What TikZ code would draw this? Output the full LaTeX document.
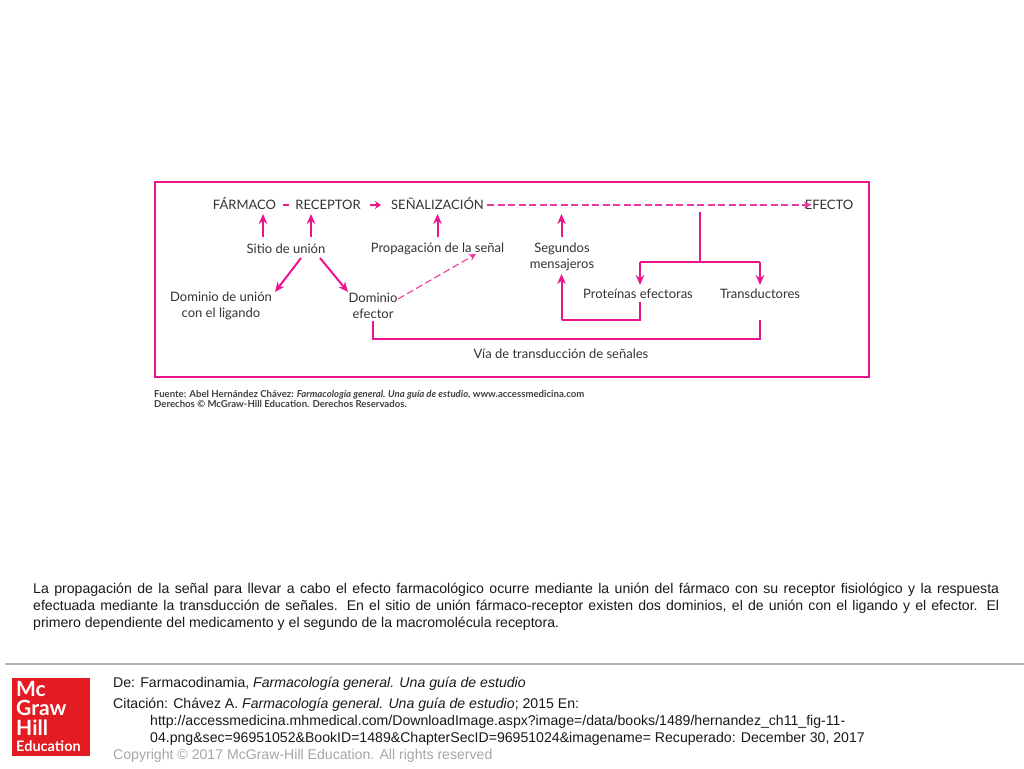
\documentclass[tikz,border=0pt]{standalone}
\usepackage{fontspec}
\setmainfont{Liberation Sans}
\newfontfamily\figfont{Lato}
\usepackage{tikz}
\usetikzlibrary{arrows.meta, positioning}
\definecolor{figpink}{RGB}{236,20,140}
\definecolor{logored}{RGB}{227,27,35}
\begin{document}
\begin{tikzpicture}[x=1pt, y=-1pt,
        lbl/.style={inner sep=0pt, align=center, font=\figfont\fontsize{13}{16}\selectfont, text=black!80},
        toplbl/.style={lbl, anchor=base},
        foot/.style={inner sep=0pt, anchor=base west, font=\fontsize{14.1}{16}\selectfont, text=black!90},
        arrow/.style={-{Stealth[length=10pt, width=8.5pt]}, line width=2pt, draw=figpink},
        line/.style={line width=2pt, draw=figpink},
        dasharrow/.style={-{Stealth[length=7pt, width=7pt]}, line width=1.1pt, draw=figpink!85, dash pattern=on 7pt off 3.5pt}
    ]
        \useasboundingbox (0,0) rectangle (1024,768);
        \fill[white] (0,0) rectangle (1024,768);
        % frame
        \node[draw=figpink, line width=2pt, minimum width=714pt, minimum height=195pt, inner sep=0pt] (frame) at (511.5,279.5) {};
        % top row
        \node[toplbl] (farmaco) at (244.5,209.5) {FÁRMACO};
        \node[toplbl] (receptor) at (328,209.5) {RECEPTOR};
        \node[toplbl] (senal) at (437.5,209.5) {SEÑALIZACIÓN};
        \node[toplbl] (efecto) at (829,209.5) {EFECTO};
        % second row
        \node[lbl] (sitio) at (286,248.5) {Sitio de unión};
        \node[lbl] (propag) at (437.5,248.5) {Propagación de la señal};
        \node[lbl] (segundos) at (562,257) {Segundos\\mensajeros};
        % third row
        \node[lbl] (ligando) at (221,305.5) {Dominio de unión\\con el ligando};
        \node[lbl] (dominio) at (373,305.5) {Dominio\\efector};
        \node[lbl] (proteinas) at (638,294) {Proteínas efectoras};
        \node[lbl] (transd) at (760,294) {Transductores};
        \node[lbl] (via) at (561,354) {Vía de transducción de señales};
        % helpers
        \coordinate (bus) at (700,212);
        \coordinate (split) at (700,262);
        \coordinate (splitL) at (640,262);
        \coordinate (splitR) at (760,262);
        \coordinate (protL) at (561.5,320);
        \coordinate (protR) at (640,320);
        \coordinate (viaR) at (760,339);
        % connectors
        \draw[line, line width=1.5pt] (283,205) -- (289,205);
        \draw[-{Stealth[length=6pt, width=8pt]}, line width=2pt, draw=figpink] (370,205) -- (381,205);
        \draw[dasharrow] (487,205) -- (811,205);
        \draw[arrow] (263,237) -- (263,214);
        \draw[arrow] (311,237) -- (311,214);
        \draw[arrow] (437.5,237) -- (437.5,214);
        \draw[arrow] (561.5,237) -- (561.5,214);
        \draw[arrow] (301,258) -- (275,292);
        \draw[arrow] (320,258) -- (348,292);
        \draw[dasharrow] (398,299) -- (476,254);
        \draw[line] (373,321) |- (viaR) -- (760,320);
        \draw[line] (bus) -- (split);
        \draw[line] (splitL) -- (splitR);
        \draw[arrow] (splitL) -- (640,285);
        \draw[arrow] (splitR) -- (760,285);
        \draw[line] (640,302) -- (protR) -- (protL);
        \draw[arrow] (protL) -- (561.5,274);
        % source
        \node[inner sep=0pt, anchor=north west, align=left, font=\figfont\bfseries\fontsize{9.6}{10.4}\selectfont, text=black!75] (fuente) at (154,390)
            {Fuente: Abel Hernández Chávez: \textit{Farmacología general. Una guía de estudio}, www.accessmedicina.com\\Derechos © McGraw-Hill Education. Derechos Reservados.};
        % caption
        \node[inner sep=0pt, anchor=north west, text width=966pt, align=justify, font=\fontsize{14.1}{17}\selectfont, text=black!90] (caption) at (33,583)
            {La propagación de la señal para llevar a cabo el efecto farmacológico ocurre mediante la unión del fármaco con su receptor fisiológico y la respuesta efectuada mediante la transducción de señales. En el sitio de unión fármaco-receptor existen dos dominios, el de unión con el ligando y el efector. El primero dependiente del medicamento y el segundo de la macromolécula receptora.};
        % footer
        \draw[black!30, line width=1.2pt] (5,664) -- (1024,664);
        \node[fill=logored, minimum width=78pt, minimum height=78pt, inner sep=0pt] (logo) at (51,716.5) {};
        \node[inner sep=0pt, anchor=north west, align=left, text=white, font=\figfont\bfseries\fontsize{21}{19.5}\selectfont] (logotxt) at (16,681)
            {Mc\\Graw\\Hill};
        \node[inner sep=0pt, anchor=base west, text=white, font=\figfont\bfseries\fontsize{14.5}{15}\selectfont] (logoedu) at (16,751) {Education};
        \node[foot] (de) at (113,687) {De: Farmacodinamia, \textit{Farmacología general. Una guía de estudio}};
        \node[foot] (cita) at (113,708) {Citación: Chávez A. \textit{Farmacología general. Una guía de estudio}; 2015 En:};
        \node[foot] (url) at (150,725) {http://accessmedicina.mhmedical.com/DownloadImage.aspx?image=/data/books/1489/hernandez\_ch11\_fig-11-};
        \node[foot] (urlb) at (150,742) {04.png\&sec=96951052\&BookID=1489\&ChapterSecID=96951024\&imagename= Recuperado: December 30, 2017};
        \node[foot, text=black!35] (copy) at (113,759) {Copyright © 2017 McGraw-Hill Education. All rights reserved};
    \end{tikzpicture}
\end{document}
